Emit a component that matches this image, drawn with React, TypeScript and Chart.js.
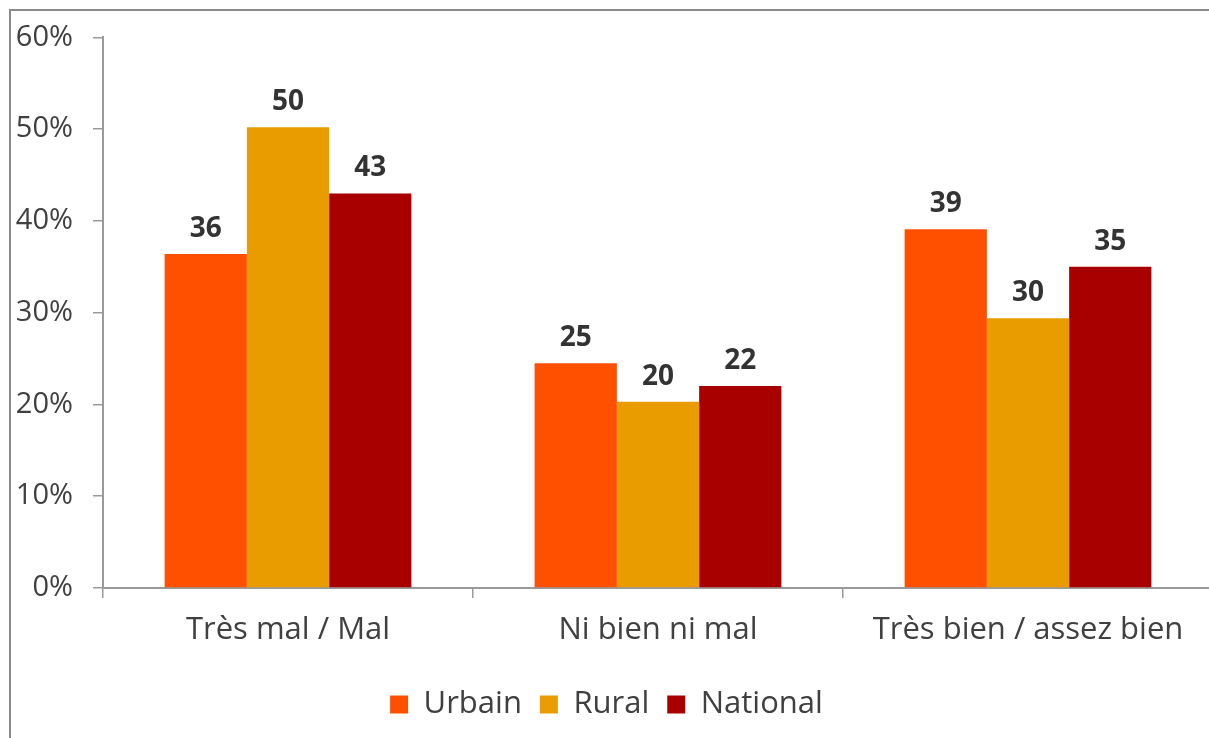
import React, { useEffect, useRef } from "react";
import { Chart, registerables } from "chart.js";

Chart.register(...registerables);

const categories = ["Très mal / Mal", "Ni bien ni mal", "Très bien / assez bien"];
const seriesNames = ["Urbain", "Rural", "National"];
const urbainValues = [36.4, 24.5, 39.1];
const ruralValues = [50.2, 20.3, 29.4];
const nationalValues = [43.0, 22.0, 35.0];
const urbainLabels = ["36", "25", "39"];
const ruralLabels = ["50", "20", "30"];
const nationalLabels = ["43", "22", "35"];
const yTicks = [0, 10, 20, 30, 40, 50, 60];
const colors = ["#FF5000", "#E89C00", "#A80000"];

const FONT = "'Open Sans', 'DejaVu Sans', sans-serif";

const frameLines = {
  id: "frameLines",
  beforeDraw(chart: any) {
    const ctx = chart.ctx;
    ctx.save();
    ctx.fillStyle = "#ffffff";
    ctx.fillRect(0, 0, chart.width, chart.height);
    ctx.strokeStyle = "#8a8a8a";
    ctx.lineWidth = 2;
    ctx.beginPath();
    ctx.moveTo(10, chart.height + 5);
    ctx.lineTo(10, 10);
    ctx.lineTo(chart.width + 5, 10);
    ctx.stroke();
    ctx.restore();
  },
};

const valueLabels = {
  id: "valueLabels",
  afterDatasetsDraw(chart: any) {
    const ctx = chart.ctx;
    const all = [urbainLabels, ruralLabels, nationalLabels];
    ctx.save();
    ctx.font = `bold 28px ${FONT}`;
    ctx.fillStyle = "#333333";
    ctx.textAlign = "center";
    ctx.textBaseline = "bottom";
    chart.data.datasets.forEach((ds: any, i: number) => {
      const meta = chart.getDatasetMeta(i);
      meta.data.forEach((bar: any, j: number) => {
        ctx.fillText(all[i][j], bar.x, bar.y - 11);
      });
    });
    ctx.restore();
  },
};

export default function App() {
  const ref = useRef<HTMLCanvasElement | null>(null);
  useEffect(() => {
    if (!ref.current) return;
    const chart = new Chart(ref.current, {
      type: "bar",
      data: {
        labels: categories,
        datasets: [
          { label: seriesNames[0], data: urbainValues, backgroundColor: colors[0] },
          { label: seriesNames[1], data: ruralValues, backgroundColor: colors[1] },
          { label: seriesNames[2], data: nationalValues, backgroundColor: colors[2] },
        ],
      },
      options: {
        responsive: false,
        animation: false,
        layout: { padding: { left: 0, right: 12, top: 21, bottom: 8 } },
        datasets: { bar: { categoryPercentage: 0.667, barPercentage: 1.0 } },
        scales: {
          x: {
            grid: {
              display: true,
              drawOnChartArea: false,
              drawTicks: true,
              tickLength: 10,
              color: "#9a9a9a",
              lineWidth: 1.5,
              offset: true,
            },
            border: { display: true, color: "#9a9a9a", width: 2 },
            ticks: {
              color: "#404040",
              font: { family: FONT, size: 31 },
              padding: 14,
            },
            afterFit: (s: any) => {
              s.height = 83;
            },
          },
          y: {
            min: 0,
            max: 60,
            afterBuildTicks: (s: any) => {
              s.ticks = yTicks.map((v) => ({ value: v }));
            },
            grid: {
              drawOnChartArea: false,
              drawTicks: true,
              tickLength: 10,
              color: "#9a9a9a",
              lineWidth: 1.5,
            },
            border: { display: true, color: "#9a9a9a", width: 2 },
            ticks: {
              color: "#404040",
              font: { family: FONT, size: 29 },
              padding: 20,
              callback: (v: any) => v + "%",
            },
            afterFit: (s: any) => {
              s.width = 103;
            },
          },
        },
        plugins: {
          legend: {
            position: "bottom",
            labels: {
              boxWidth: 18,
              boxHeight: 18,
              color: "#404040",
              font: { family: FONT, size: 31 },
              padding: 18,
            },
          },
          tooltip: { enabled: false },
        },
      },
      plugins: [frameLines, valueLabels],
    });
    return () => chart.destroy();
  }, []);
  return (
    <div
      style={{
        position: "fixed",
        left: 0,
        top: 0,
        width: 1209,
        height: 738,
        overflow: "hidden",
        background: "#fff",
      }}
    >
      <canvas ref={ref} width={1225} height={738} style={{ display: "block" }} />
    </div>
  );
}
